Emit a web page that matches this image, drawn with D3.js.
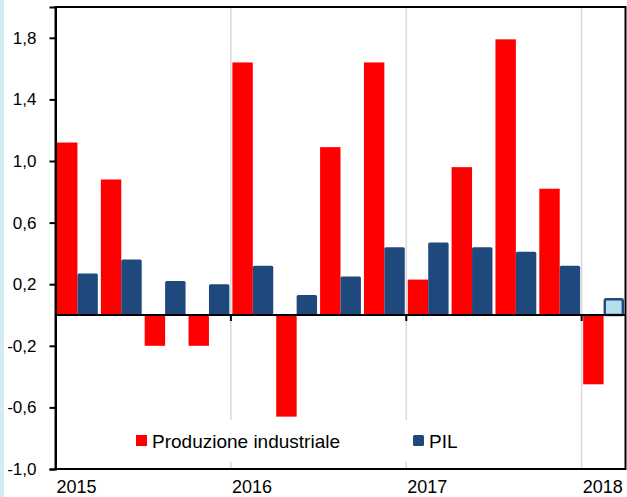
<!DOCTYPE html>
<html>
<head>
<meta charset="utf-8">
<script src="https://cdn.jsdelivr.net/npm/d3@7"></script>
<style>
  html, body { margin: 0; padding: 0; background: #ffffff; }
  svg { display: block; font-family: "Liberation Sans", Arial, sans-serif; }
</style>
</head>
<body>
<svg id="chart" width="627" height="497"></svg>
<script>
// ---- data ----
const quarters = ["2015T1","2015T2","2015T3","2015T4","2016T1","2016T2","2016T3","2016T4","2017T1","2017T2","2017T3","2017T4","2018T1"];
const produzione = [1.12, 0.88, -0.20, -0.20, 1.64, -0.66, 1.09, 1.64, 0.23, 0.96, 1.79, 0.82, -0.45];
const pil = [0.27, 0.36, 0.22, 0.20, 0.32, 0.13, 0.25, 0.44, 0.47, 0.44, 0.41, 0.32, 0.11];
const pilEstimate = [false,false,false,false,false,false,false,false,false,false,false,false,true];
const seriesNames = ["Produzione industriale", "PIL"];
const yTickValues = [-1.0, -0.6, -0.2, 0.2, 0.6, 1.0, 1.4, 1.8];
const yTickLabels = ["-1,0", "-0,6", "-0,2", "0,2", "0,6", "1,0", "1,4", "1,8"];
const yearLabels = ["2015", "2016", "2017", "2018"];
const yearStarts = ["2015T1", "2016T1", "2017T1", "2018T1"];

// ---- layout ----
const svg = d3.select("#chart");
const L = 55.5, R = 625.5, T = 7, B = 469;
const red = "#ff0000", blue = "#1f497d", lightBlue = "#b7dfe9";

svg.append("rect").attr("x", 0).attr("y", 0).attr("width", 4).attr("height", 497).attr("fill", "#cfecf3");

const x = d3.scaleBand().domain(quarters).range([L, R]).padding(0);
const x1 = d3.scaleBand().domain(seriesNames).range([1.5, x.bandwidth() - 1.5]).padding(0);
const y = d3.scaleLinear().domain([-1, 2]).range([B, T]);

// gridlines at year boundaries
svg.append("g").selectAll("line").data(yearStarts.slice(1)).join("line")
  .attr("x1", d => x(d)).attr("x2", d => x(d))
  .attr("y1", T).attr("y2", B)
  .attr("stroke", "#d9d9d9").attr("stroke-width", 1.5);

// legend background box (hides gridlines)
svg.append("rect").attr("x", 128).attr("y", 420).attr("width", 350).attr("height", 42).attr("fill", "#ffffff");

// bars
svg.append("g").selectAll("rect").data(produzione).join("rect")
  .attr("x", (d, i) => x(quarters[i]) + x1(seriesNames[0]))
  .attr("width", x1.bandwidth())
  .attr("y", d => y(Math.max(0, d)))
  .attr("height", d => Math.abs(y(d) - y(0)))
  .attr("fill", red);

svg.append("g").selectAll("rect").data(pil).join("rect")
  .attr("x", (d, i) => x(quarters[i]) + x1(seriesNames[1]) + (pilEstimate[i] ? 1.2 : 0))
  .attr("width", (d, i) => x1.bandwidth() - (pilEstimate[i] ? 2.4 : 0))
  .attr("y", (d, i) => y(Math.max(0, d)) + (pilEstimate[i] ? 1.2 : 0))
  .attr("height", (d, i) => Math.abs(y(d) - y(0)) - (pilEstimate[i] ? 1.2 : 0))
  .attr("rx", 1.5)
  .attr("fill", (d, i) => pilEstimate[i] ? lightBlue : blue)
  .attr("stroke", (d, i) => pilEstimate[i] ? blue : "none")
  .attr("stroke-width", 2.4);

// zero line
svg.append("line").attr("x1", L).attr("x2", R).attr("y1", y(0)).attr("y2", y(0))
  .attr("stroke", "#000").attr("stroke-width", 2);

// year ticks on zero line
svg.append("g").selectAll("line").data(yearStarts.slice(1)).join("line")
  .attr("x1", d => x(d)).attr("x2", d => x(d))
  .attr("y1", y(0)).attr("y2", y(0) + 6)
  .attr("stroke", "#000").attr("stroke-width", 2);

// frame
svg.append("rect").attr("x", L).attr("y", T).attr("width", R - L).attr("height", B - T)
  .attr("fill", "none").attr("stroke", "#000").attr("stroke-width", 2);

// y axis
const yAxis = d3.axisLeft(y).tickValues(yTickValues)
  .tickFormat((d, i) => yTickLabels[i]).tickSize(6).tickPadding(13);
const gy = svg.append("g").attr("transform", `translate(${L},0)`).call(yAxis);
gy.select(".domain").attr("stroke-width", 2);
gy.selectAll(".tick line").attr("stroke-width", 2);
gy.selectAll(".tick text").attr("font-size", 17).attr("fill", "#000")
  .attr("font-family", "Liberation Sans, Arial, sans-serif");

// x year labels
svg.append("g").selectAll("text").data(yearLabels).join("text")
  .attr("x", (d, i) => x(yearStarts[i]) + 1)
  .attr("y", 493)
  .attr("font-size", 18).attr("fill", "#000")
  .text(d => d);

// legend
const legend = svg.append("g");
const legendItems = [
  { name: seriesNames[0], color: red, sx: 136, tx: 152 },
  { name: seriesNames[1], color: blue, sx: 413, tx: 429 }
];
legend.selectAll("rect").data(legendItems).join("rect")
  .attr("x", d => d.sx).attr("y", 435).attr("width", 11).attr("height", 11)
  .attr("rx", (d, i) => i === 1 ? 1.5 : 0)
  .attr("fill", d => d.color);
legend.selectAll("text").data(legendItems).join("text")
  .attr("x", d => d.tx).attr("y", 447.5)
  .attr("font-size", 19).attr("fill", "#000")
  .text(d => d.name);
</script>
</body>
</html>
